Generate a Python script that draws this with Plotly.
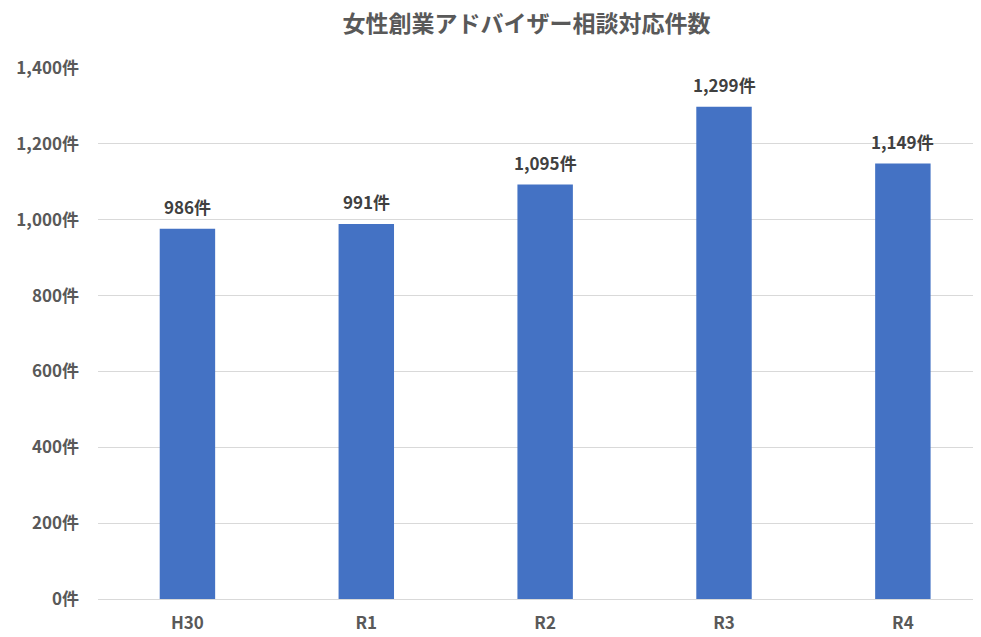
import plotly.graph_objects as go

# 年度ごとの女性創業アドバイザー相談対応件数
years = ["H30", "R1", "R2", "R3", "R4"]
bar_heights = [976, 989, 1093, 1298, 1148]
label_values = [986, 991, 1095, 1299, 1149]  # printed data labels
y_ticks = [0, 200, 400, 600, 800, 1000, 1200, 1400]

FONT = "Noto Sans CJK JP"

fig = go.Figure(
    go.Bar(
        x=list(range(len(years))),
        y=bar_heights,
        width=0.31,
        marker=dict(color="#4472C4", line=dict(width=0)),
        hoverinfo="skip",
    )
)

# data labels above each bar
for i, (h, v) in enumerate(zip(bar_heights, label_values)):
    fig.add_annotation(
        x=i,
        y=h,
        text=f"{v:,}件",
        showarrow=False,
        yanchor="middle",
        yshift=22,
        font=dict(family=FONT, size=17, color="#404040", weight="bold"),
    )

# page has an 8px body margin, so the figure is 8px smaller each way
fig.update_layout(
    width=973,
    height=629,
    margin=dict(l=90, r=3, t=60, b=36),
    plot_bgcolor="white",
    paper_bgcolor="white",
    showlegend=False,
    title=dict(
        text="女性創業アドバイザー相談対応件数",
        x=0.533,
        xref="container",
        xanchor="center",
        y=0.974,
        yref="container",
        yanchor="middle",
        font=dict(family=FONT, size=23, color="#595959", weight="bold"),
    ),
)
fig.update_xaxes(
    range=[-0.5, 4.42],
    tickvals=list(range(len(years))),
    ticktext=years,
    showgrid=False,
    showline=False,
    zeroline=False,
    ticks="",
    ticklabelstandoff=12,
    tickfont=dict(family=FONT, size=17, color="#595959", weight="bold"),
)
fig.update_yaxes(
    range=[0, 1400],
    tickvals=y_ticks,
    ticktext=[f"{v:,}件" for v in y_ticks],
    showgrid=True,
    gridcolor="#D9D9D9",
    gridwidth=1,
    zeroline=True,
    zerolinecolor="#D9D9D9",
    zerolinewidth=1,
    showline=False,
    ticks="",
    ticklabelstandoff=18,
    tickfont=dict(family=FONT, size=17, color="#595959", weight="bold"),
)

fig.write_html("out.html")
